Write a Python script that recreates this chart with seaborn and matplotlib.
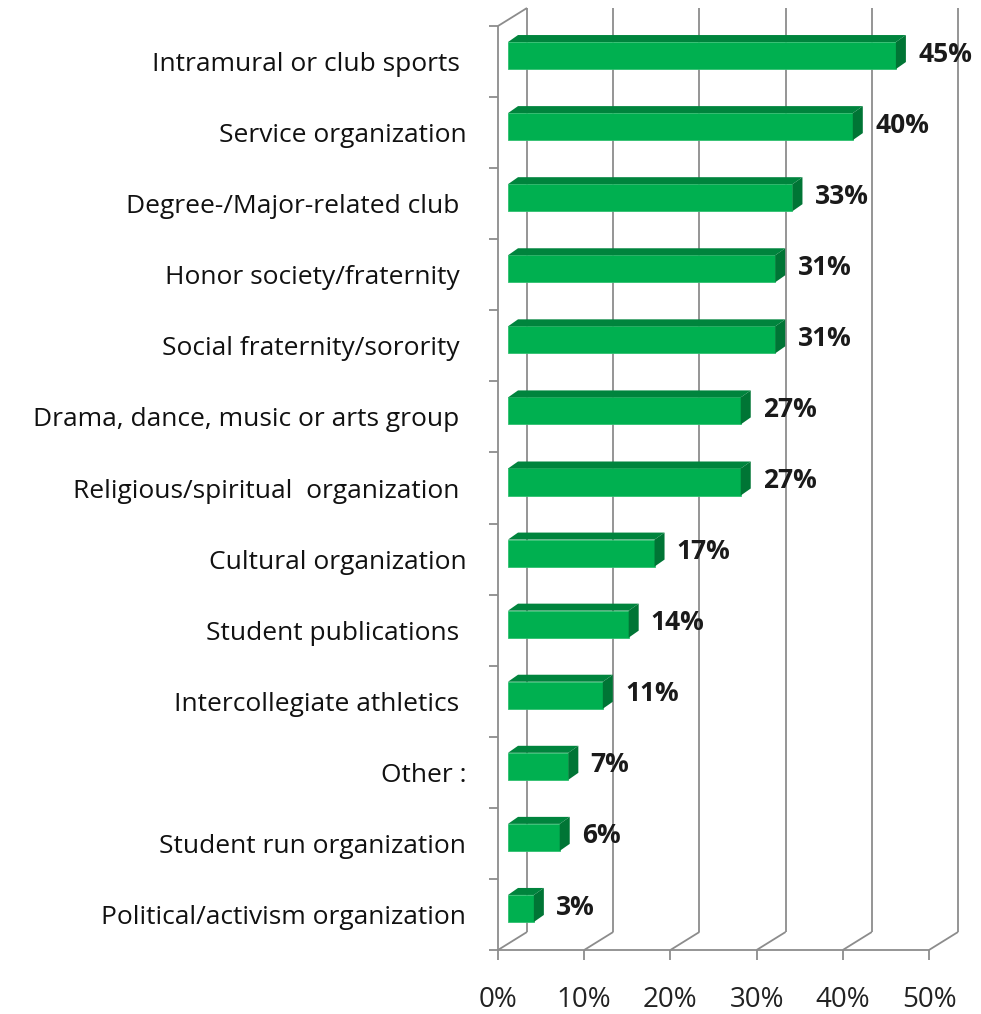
import pandas as pd
import matplotlib.pyplot as plt
import seaborn as sns
from matplotlib.patches import Polygon
import matplotlib.transforms as mtransforms

# ── Data ───────────────────────────────────────────────────────────────────
categories = [
    'Intramural or club sports ',
    'Service organization',
    'Degree-/Major-related club ',
    'Honor society/fraternity ',
    'Social fraternity/sorority ',
    'Drama, dance, music or arts group ',
    'Religious/spiritual  organization ',
    'Cultural organization',
    'Student publications ',
    'Intercollegiate athletics ',
    'Other :',
    'Student run organization',
    'Political/activism organization',
]
values = [45, 40, 33, 31, 31, 27, 27, 17, 14, 11, 7, 6, 3]
value_labels = [f'{v}%' for v in values]
x_ticks = [0, 10, 20, 30, 40, 50]
x_tick_labels = ['0%', '10%', '20%', '30%', '40%', '50%']

# ── Style ──────────────────────────────────────────────────────────────────
sns.set_theme(style='white')
plt.rcParams['font.family'] = ['Open Sans', 'DejaVu Sans']

FRONT = '#00B050'
TOP = '#00843D'
SIDE = '#007535'
WALL = '#8C8C8C'

W, H = 981, 1014
fig = plt.figure(figsize=(W / 100, H / 100), dpi=100)
ax_l, ax_t, ax_w, ax_h = 508, 20, 431, 924
ax = fig.add_axes([ax_l / W, 1 - (ax_t + ax_h) / H, ax_w / W, ax_h / H])

df = pd.DataFrame({'activity': categories, 'pct': values})
sns.barplot(data=df, x='pct', y='activity', orient='h', color=FRONT,
            saturation=1, width=0.38, edgecolor='#2FC070', linewidth=0.6,
            ax=ax, zorder=3)
ax.set_xlim(0, 50)
ax.set_ylim(len(categories) - 0.5, -0.5)

px_x = ax_w / 50
px_y = ax_h / len(categories)


def at(x, v, dx=0, dy=0):
    # shift a data point by pixels (dx right, dy down)
    return x + dx / px_x, v + dy / px_y


BACK = (19, -12)
FRNT = (-10, 6)
v_top, v_bot = -0.5, len(categories) - 0.5


def seg(p, q, **kw):
    ax.plot([p[0], q[0]], [p[1], q[1]], color=WALL, lw=1.3,
            clip_on=False, zorder=1, solid_capstyle='butt', **kw)


# back wall gridlines + floor diagonals
for x in x_ticks:
    seg(at(x, v_top, *BACK), at(x, v_bot, *BACK))
    seg(at(x, v_bot, *FRNT), at(x, v_bot, *BACK))
    # front tick marks
    seg(at(x, v_bot, *FRNT), at(x, v_bot, FRNT[0], FRNT[1] + 10))

# floor front edge
seg(at(0, v_bot, *FRNT), at(50, v_bot, *FRNT))
# left wall
seg(at(0, v_top, *FRNT), at(0, v_bot, *FRNT))
seg(at(0, v_top, *FRNT), at(0, v_top, *BACK))
for i in range(len(categories) + 1):
    v = v_top + i
    seg(at(0, v, *FRNT), at(0, v, FRNT[0] - 9, FRNT[1]))

# x tick labels
for x, lab in zip(x_ticks, x_tick_labels):
    px, pv = at(x, v_bot, FRNT[0], FRNT[1] + 50)
    ax.text(px, pv, lab, ha='center', va='center', fontsize=20,
            color='#222222', clip_on=False)

# 3-D faces for each bar
ddx, ddy = 10, -7
for patch in ax.patches[:len(values)]:
    x0 = patch.get_x()
    x1 = x0 + patch.get_width()
    va = patch.get_y()
    vb = va + patch.get_height()
    vt, vbo = min(va, vb), max(va, vb)
    top = [(x0, vt), (x1, vt), at(x1, vt, ddx, ddy), at(x0, vt, ddx, ddy)]
    side = [(x1, vt), (x1, vbo), at(x1, vbo, ddx, ddy), at(x1, vt, ddx, ddy)]
    ax.add_patch(Polygon(top, closed=True, facecolor=TOP, edgecolor='none',
                         zorder=3, clip_on=False))
    ax.add_patch(Polygon(side, closed=True, facecolor=SIDE, edgecolor='none',
                         zorder=3, clip_on=False))

# value labels
for i, (v, lab) in enumerate(zip(values, value_labels)):
    ax.annotate(lab, xy=(v, i), xytext=(16, 1), textcoords='offset points',
                ha='left', va='center', fontsize=19, fontweight='bold',
                color='#1a1a1a', annotation_clip=False)

# axes cosmetics
for s in ax.spines.values():
    s.set_visible(False)
ax.set_xticks([])
ax.set_xlabel('')
ax.set_ylabel('')
ax.tick_params(axis='y', length=0, pad=30, labelsize=19, labelcolor='#111111')
shift = mtransforms.ScaledTranslation(0, -6 / 100, fig.dpi_scale_trans)
for lab in ax.get_yticklabels():
    lab.set_transform(lab.get_transform() + shift)

fig.savefig('out.png', dpi=100, facecolor='white')
